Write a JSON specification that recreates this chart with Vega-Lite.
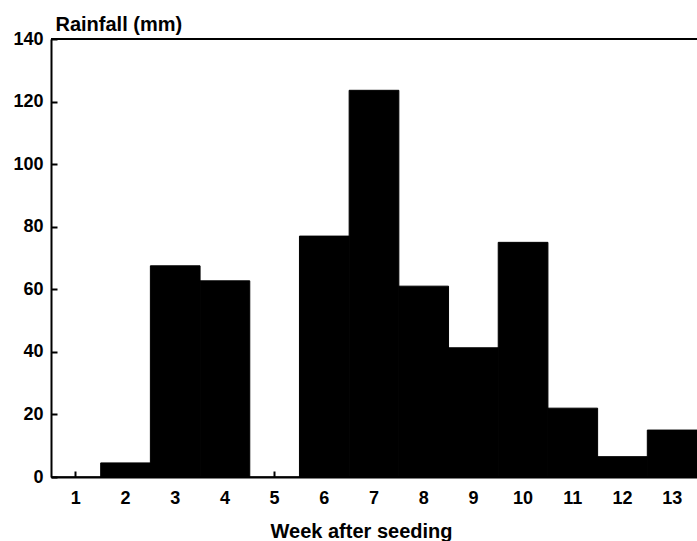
{
  "$schema": "https://vega.github.io/schema/vega-lite/v6.json",
  "autosize": "none",
  "width": 646,
  "height": 438,
  "padding": {"left": 51, "top": 39, "right": 0, "bottom": 64},
  "background": "white",
  "config": {
    "view": {"stroke": null},
    "font": "Liberation Sans",
    "axis": {
      "domainColor": "black",
      "domainWidth": 2,
      "tickColor": "black",
      "tickWidth": 2,
      "labelColor": "black",
      "titleColor": "black",
      "labelFont": "Liberation Sans",
      "titleFont": "Liberation Sans",
      "labelFontWeight": "bold",
      "titleFontWeight": "bold",
      "grid": false
    }
  },
  "data": {
    "values": [
      {"week": 1, "rainfall": 0},
      {"week": 2, "rainfall": 4.5},
      {"week": 3, "rainfall": 67.5},
      {"week": 4, "rainfall": 62.7},
      {"week": 5, "rainfall": 0},
      {"week": 6, "rainfall": 77},
      {"week": 7, "rainfall": 123.6},
      {"week": 8, "rainfall": 61},
      {"week": 9, "rainfall": 41.3},
      {"week": 10, "rainfall": 75},
      {"week": 11, "rainfall": 22},
      {"week": 12, "rainfall": 6.5},
      {"week": 13, "rainfall": 15}
    ]
  },
  "layer": [
    {
      "mark": {"type": "bar", "color": "black", "stroke": "black", "strokeWidth": 1},
      "encoding": {
        "x": {
          "field": "week",
          "type": "ordinal",
          "scale": {"paddingInner": 0, "paddingOuter": 0},
          "axis": {
            "title": "Week after seeding",
            "labelAngle": 0,
            "labelFontSize": 18,
            "labelPadding": 18,
            "tickSize": -6,
            "titleFontSize": 20,
            "titleAlign": "center",
            "titleBaseline": "alphabetic",
            "titleX": 310,
            "titleY": 60
          }
        },
        "y": {
          "field": "rainfall",
          "type": "quantitative",
          "scale": {"domain": [0, 140], "nice": false},
          "axis": {
            "title": "Rainfall (mm)",
            "values": [0, 20, 40, 60, 80, 100, 120, 140],
            "labelFontSize": 18,
            "labelPadding": 14,
            "tickSize": -6,
            "titleAngle": 0,
            "titleAlign": "left",
            "titleBaseline": "alphabetic",
            "titleX": 4,
            "titleY": -9,
            "titleFontSize": 20
          }
        }
      }
    },
    {
      "mark": {"type": "rule", "color": "black", "strokeWidth": 2},
      "encoding": {"y": {"datum": 140}}
    }
  ]
}
